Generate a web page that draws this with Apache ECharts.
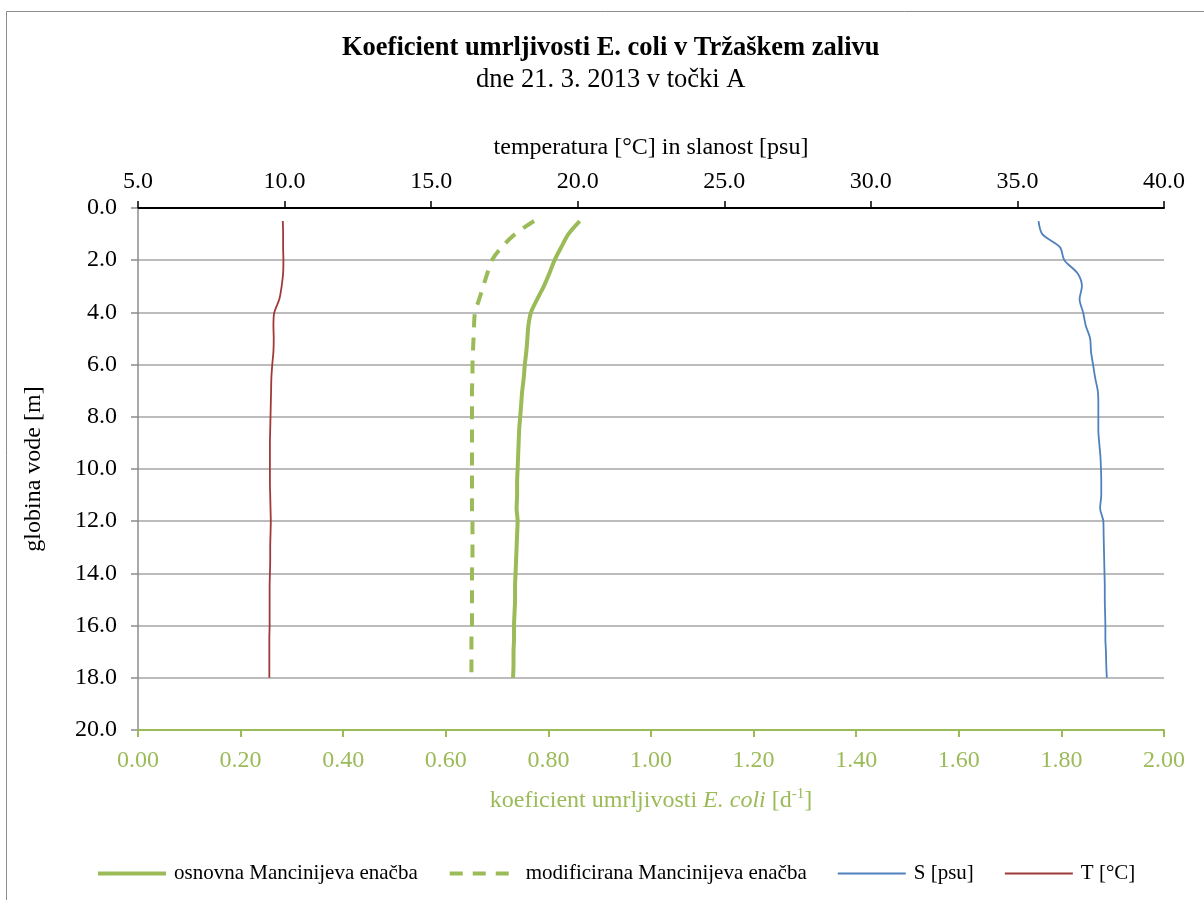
<!DOCTYPE html>
<html><head><meta charset="utf-8">
<script src="https://cdn.jsdelivr.net/npm/echarts@6/dist/echarts.min.js"></script>
<style>html,body{margin:0;padding:0;background:#fff}#c{width:1204px;height:900px}</style>
</head><body><div id="c"></div>
<script>
var depth = [0.5,1.0,1.5,2.0,2.5,3.0,3.5,4.0,4.5,5.0,5.5,6.0,6.5,7.0,7.5,8.0,8.5,9.0,9.5,10.0,10.5,11.0,11.5,12.0,12.5,13.0,13.5,14.0,14.5,15.0,15.5,16.0,16.5,17.0,17.5,18.0];
var kBasic = [0.861,0.839,0.825,0.812,0.802,0.791,0.778,0.766,0.761,0.759,0.757,0.754,0.752,0.749,0.747,0.745,0.743,0.742,0.741,0.740,0.739,0.739,0.738,0.740,0.739,0.738,0.737,0.736,0.735,0.735,0.734,0.733,0.733,0.732,0.732,0.731];
var kModified = [0.772,0.735,0.709,0.690,0.681,0.673,0.665,0.657,0.655,0.654,0.653,0.652,0.652,0.651,0.651,0.651,0.651,0.651,0.651,0.651,0.651,0.651,0.651,0.652,0.652,0.652,0.652,0.651,0.651,0.651,0.651,0.651,0.650,0.650,0.650,0.650];
var salinity = [35.72,35.85,36.45,36.60,37.05,37.20,37.12,37.24,37.33,37.48,37.51,37.58,37.65,37.74,37.76,37.76,37.76,37.79,37.83,37.85,37.86,37.86,37.82,37.93,37.94,37.95,37.96,37.97,37.98,37.98,37.99,38.00,38.00,38.02,38.03,38.05];
var temperature = [9.94,9.95,9.95,9.96,9.95,9.90,9.82,9.65,9.62,9.63,9.62,9.58,9.55,9.54,9.53,9.52,9.51,9.50,9.50,9.50,9.50,9.51,9.52,9.53,9.52,9.51,9.51,9.50,9.49,9.49,9.49,9.49,9.48,9.48,9.48,9.48];
var seriesNames = ['osnovna Mancinijeva enačba','modificirana Mancinijeva enačba','S [psu]','T [°C]'];
var titleText = 'Koeficient umrljivosti E. coli v Tržaškem zalivu';
var subtitleText = 'dne 21. 3. 2013 v točki A';

function pairs(xs){ return xs.map(function(v,i){ return [v, depth[i]]; }); }

var FONT = '"Liberation Serif","DejaVu Serif",serif';
var GREEN = '#9BBB59';
var BLUE = '#4F81BD';
var RED = '#A03A3A';
var chart = echarts.init(document.getElementById('c'), null, {renderer:'canvas'});
chart.setOption({
  backgroundColor:'#fff',
  animation:false,
  textStyle:{fontFamily:FONT},
  title:[
    {text:titleText, left:342, top:35, padding:0,
     textStyle:{fontFamily:FONT,fontSize:26.5,fontWeight:'bold',color:'#000'}},
    {text:subtitleText, left:476, top:67, padding:0,
     textStyle:{fontFamily:FONT,fontSize:26.5,fontWeight:'normal',color:'#000'}}
  ],
  graphic:[
    {type:'line',shape:{x1:6.5,y1:11.5,x2:1204,y2:11.5},style:{stroke:'#8c8c8c',lineWidth:1}},
    {type:'line',shape:{x1:6.5,y1:11.5,x2:6.5,y2:900},style:{stroke:'#8c8c8c',lineWidth:1}}
  ],
  legend:{
    bottom:11, left:91,
    itemWidth:68, itemHeight:6, itemGap:30,
    textStyle:{fontFamily:FONT,fontSize:21,color:'#000',padding:[0,0,0,3]},
    data:[
      {name:seriesNames[0],lineStyle:{width:4},itemStyle:{opacity:0}},
      {name:seriesNames[1],lineStyle:{width:4},itemStyle:{opacity:0}},
      {name:seriesNames[2],lineStyle:{width:2},itemStyle:{opacity:0}},
      {name:seriesNames[3],lineStyle:{width:2},itemStyle:{opacity:0}}
    ]
  },
  grid:{left:138,right:40,top:208,bottom:170,containLabel:false},
  xAxis:[
    {type:'value',position:'bottom',min:0,max:2,interval:0.2,
     name:'{a|koeficient umrljivosti }{i|E. coli}{a| [d}{s|-1}{a|]}',
     nameLocation:'middle',nameGap:57,
     nameTextStyle:{rich:{
       a:{fontFamily:FONT,fontSize:24,color:GREEN},
       i:{fontFamily:FONT,fontSize:24,color:GREEN,fontStyle:'italic'},
       s:{fontFamily:FONT,fontSize:15,color:GREEN,verticalAlign:'top',padding:[0,0,12,0]}
     }},
     axisLine:{show:true,onZero:false,lineStyle:{color:GREEN,width:2}},
     axisTick:{show:true,length:7,lineStyle:{color:GREEN,width:2}},
     axisLabel:{fontFamily:FONT,fontSize:24,color:GREEN,margin:19,formatter:function(v){return v.toFixed(2);}},
     splitLine:{show:false}},
    {type:'value',position:'top',min:5,max:40,interval:5,
     name:'temperatura [°C] in slanost [psu]',
     nameLocation:'middle',nameGap:48,
     nameTextStyle:{fontFamily:FONT,fontSize:24,color:'#000'},
     axisLine:{show:true,onZero:false,lineStyle:{color:'#000',width:2}},
     axisTick:{show:true,length:7,lineStyle:{color:'#000',width:1.5}},
     axisLabel:{fontFamily:FONT,fontSize:24,color:'#000',margin:14,formatter:function(v){return v.toFixed(1);}},
     splitLine:{show:false}}
  ],
  yAxis:{type:'value',inverse:true,min:0,max:20,interval:2,
    name:'globina vode [m]',nameLocation:'middle',nameGap:92,nameRotate:90,
    nameTextStyle:{fontFamily:FONT,fontSize:24,color:'#000'},
    axisLine:{show:true,onZero:false,lineStyle:{color:'#8c8c8c',width:1.5}},
    axisTick:{show:true,length:7,lineStyle:{color:'#8c8c8c',width:1.5}},
    axisLabel:{fontFamily:FONT,fontSize:24,color:'#000',margin:21,formatter:function(v){return v.toFixed(1);}},
    splitLine:{show:true,lineStyle:{color:'#a6a6a6',width:1.5}}
  },
  series:[
    {name:seriesNames[0],type:'line',xAxisIndex:0,data:pairs(kBasic),smooth:0.3,symbol:'none',
     lineStyle:{color:GREEN,width:4},itemStyle:{color:GREEN}},
    {name:seriesNames[1],type:'line',xAxisIndex:0,data:pairs(kModified),smooth:0.3,symbol:'none',
     lineStyle:{color:GREEN,width:4,type:[13,10]},itemStyle:{color:GREEN}},
    {name:seriesNames[2],type:'line',xAxisIndex:1,data:pairs(salinity),smooth:0.3,symbol:'none',
     lineStyle:{color:BLUE,width:1.8},itemStyle:{color:BLUE}},
    {name:seriesNames[3],type:'line',xAxisIndex:1,data:pairs(temperature),smooth:0.3,symbol:'none',
     lineStyle:{color:RED,width:1.8},itemStyle:{color:RED}}
  ]
});
</script>
</body></html>
